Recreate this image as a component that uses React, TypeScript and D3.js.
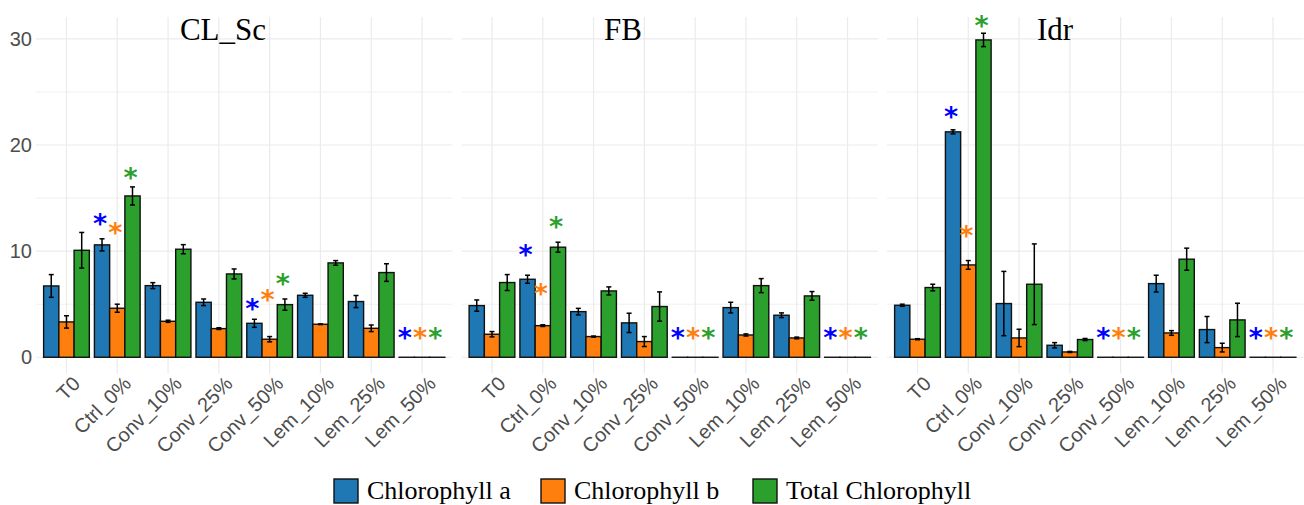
import React, { useRef, useEffect } from 'react';
import * as d3 from 'd3';

const sites = ['CL_Sc', 'FB', 'Idr'];
const categories = ['T0', 'Ctrl_0%', 'Conv_10%', 'Conv_25%', 'Conv_50%', 'Lem_10%', 'Lem_25%', 'Lem_50%'];
const seriesNames = ['Chlorophyll a', 'Chlorophyll b', 'Total Chlorophyll'];
const yTicks = [0, 10, 20, 30];
const yMinorTicks = [5, 15, 25];

// CL_Sc
const clScChlA = [6.72, 10.59, 6.75, 5.18, 3.2, 5.84, 5.25, 0];
const clScChlASd = [1.07, 0.57, 0.28, 0.31, 0.38, 0.19, 0.57, 0];
const clScChlB = [3.33, 4.62, 3.39, 2.7, 1.7, 3.11, 2.73, 0];
const clScChlBSd = [0.58, 0.38, 0.1, 0.08, 0.25, 0.03, 0.31, 0];
const clScTotal = [10.08, 15.2, 10.18, 7.85, 4.96, 8.89, 7.98, 0];
const clScTotalSd = [1.68, 0.85, 0.43, 0.47, 0.53, 0.22, 0.83, 0];

// FB
const fbChlA = [4.87, 7.35, 4.3, 3.24, 0, 4.68, 3.96, 0];
const fbChlASd = [0.53, 0.38, 0.31, 0.91, 0, 0.5, 0.22, 0];
const fbChlB = [2.17, 2.98, 1.95, 1.48, 0, 2.1, 1.82, 0];
const fbChlBSd = [0.25, 0.08, 0.05, 0.47, 0, 0.1, 0.08, 0];
const fbTotal = [7.04, 10.37, 6.25, 4.78, 0, 6.75, 5.78, 0];
const fbTotalSd = [0.75, 0.47, 0.38, 1.38, 0, 0.66, 0.41, 0];

// Idr
const idrChlA = [4.9, 21.24, 5.06, 1.13, 0, 6.94, 2.61, 0];
const idrChlASd = [0.1, 0.19, 3.03, 0.25, 0, 0.79, 1.23, 0];
const idrChlB = [1.7, 8.7, 1.82, 0.5, 0, 2.29, 0.91, 0];
const idrChlBSd = [0.05, 0.41, 0.82, 0.05, 0, 0.22, 0.41, 0];
const idrTotal = [6.57, 29.9, 6.88, 1.67, 0, 9.24, 3.52, 0];
const idrTotalSd = [0.31, 0.63, 3.8, 0.1, 0, 1.04, 1.57, 0];

// significance marks: [category, y of Chl a mark, y of Chl b mark, y of total mark]
const clScStars = [['Ctrl_0%', 13.3, 12.47, 17.6], ['Conv_50%', 5.3, 6.1, 7.6], ['Lem_50%', 2.58, 2.58, 2.58]];
const fbStars = [['Ctrl_0%', 10.37, 6.66, 13.0], ['Conv_50%', 2.58, 2.58, 2.58], ['Lem_50%', 2.58, 2.58, 2.58]];
const idrStars = [['Ctrl_0%', 23.4, 12.13, 31.95], ['Conv_50%', 2.58, 2.58, 2.58], ['Lem_50%', 2.58, 2.58, 2.58]];

const barColors = ['#1f77b4', '#ff7f0e', '#2ca02c'];
const starColors = ['#0000ff', '#ff7f0e', '#2ca02c'];

const App = () => {
  const chartRef = useRef<SVGSVGElement>(null);

  useEffect(() => {
    const svg = d3.select(chartRef.current);
    svg.selectAll('*').remove();

    const panelTop = 17;
    const panelBottom = 373.5;
    const panelLefts = [36, 461.5, 887];
    const panelWidth = 416.5;
    const titleX = [223, 623, 1055];
    const sansFont = "'Liberation Sans', Arial, sans-serif";
    const serifFont = "'Liberation Serif', 'Times New Roman', serif";

    const means = [
      [clScChlA, clScChlB, clScTotal],
      [fbChlA, fbChlB, fbTotal],
      [idrChlA, idrChlB, idrTotal],
    ];
    const sds = [
      [clScChlASd, clScChlBSd, clScTotalSd],
      [fbChlASd, fbChlBSd, fbTotalSd],
      [idrChlASd, idrChlBSd, idrTotalSd],
    ];
    const stars = [clScStars, fbStars, idrStars];

    const yScale = d3.scaleLinear().domain([-1.53, 32.06]).range([panelBottom, panelTop]);

    // y axis labels (shared)
    svg
      .append('g')
      .selectAll('text')
      .data(yTicks)
      .join('text')
      .attr('x', 32)
      .attr('y', (d) => yScale(d))
      .attr('dy', '0.36em')
      .attr('text-anchor', 'end')
      .style('font-family', sansFont)
      .style('font-size', '20px')
      .style('fill', '#4d4d4d')
      .text((d) => d);

    sites.forEach((site, si) => {
      const left = panelLefts[si];
      const xScale = d3
        .scalePoint()
        .domain(categories)
        .range([left, left + panelWidth])
        .padding(0.6);
      const step = xScale.step();
      const barW = step * 0.3;
      const g = svg.append('g');

      // grid
      g.selectAll('.minor')
        .data(yMinorTicks)
        .join('line')
        .attr('x1', left)
        .attr('x2', left + panelWidth)
        .attr('y1', (d) => yScale(d))
        .attr('y2', (d) => yScale(d))
        .style('stroke', '#f0f0f0')
        .style('stroke-width', 1);
      g.selectAll('.major')
        .data(yTicks)
        .join('line')
        .attr('x1', left)
        .attr('x2', left + panelWidth)
        .attr('y1', (d) => yScale(d))
        .attr('y2', (d) => yScale(d))
        .style('stroke', '#ebebeb')
        .style('stroke-width', 1.2);
      g.append('g')
        .selectAll('line')
        .data(categories)
        .join('line')
        .attr('x1', (d) => xScale(d))
        .attr('x2', (d) => xScale(d))
        .attr('y1', panelTop)
        .attr('y2', panelBottom)
        .style('stroke', '#ebebeb')
        .style('stroke-width', 1.2);

      // bars
      seriesNames.forEach((name, k) => {
        const vals = means[si][k];
        const errs = sds[si][k];
        const bx = (i) => xScale(categories[i]) + (k - 1.5) * barW;
        const sg = g.append('g');
        sg.selectAll('rect')
          .data(vals.map((v, i) => ({ v, i })).filter((d) => d.v > 0))
          .join('rect')
          .attr('x', (d) => bx(d.i))
          .attr('y', (d) => yScale(d.v))
          .attr('width', barW)
          .attr('height', (d) => yScale(0) - yScale(d.v))
          .style('fill', barColors[k])
          .style('stroke', '#111')
          .style('stroke-width', 1.4);
        sg.selectAll('.zero')
          .data(vals.map((v, i) => ({ v, i })).filter((d) => d.v === 0))
          .join('line')
          .attr('x1', (d) => bx(d.i) - 0.7)
          .attr('x2', (d) => bx(d.i) + barW + 0.7)
          .attr('y1', yScale(0))
          .attr('y2', yScale(0))
          .style('stroke', '#111')
          .style('stroke-width', 1.4);

        // error bars
        const eb = vals
          .map((v, i) => ({ v, e: errs[i], cx: bx(i) + barW / 2 }))
          .filter((d) => d.e > 0);
        const eg = g.append('g').style('stroke', '#000').style('stroke-width', 1.5);
        eg.selectAll('.stem')
          .data(eb)
          .join('line')
          .attr('x1', (d) => d.cx)
          .attr('x2', (d) => d.cx)
          .attr('y1', (d) => yScale(d.v - d.e))
          .attr('y2', (d) => yScale(d.v + d.e));
        eg.selectAll('.capTop')
          .data(eb)
          .join('line')
          .attr('x1', (d) => d.cx - 2.5)
          .attr('x2', (d) => d.cx + 2.5)
          .attr('y1', (d) => yScale(d.v + d.e))
          .attr('y2', (d) => yScale(d.v + d.e));
        eg.selectAll('.capBottom')
          .data(eb)
          .join('line')
          .attr('x1', (d) => d.cx - 2.5)
          .attr('x2', (d) => d.cx + 2.5)
          .attr('y1', (d) => yScale(d.v - d.e))
          .attr('y2', (d) => yScale(d.v - d.e));
      });

      // significance marks
      const marks = [];
      stars[si].forEach((row) => {
        [0, 1, 2].forEach((k) => {
          marks.push({ cat: row[0], k, y: row[k + 1] });
        });
      });
      g.append('g')
        .selectAll('text')
        .data(marks)
        .join('text')
        .attr('x', (d) => xScale(d.cat) + (d.k - 1) * barW - 2)
        .attr('y', (d) => yScale(d.y))
        .attr('dy', '0.62em')
        .attr('text-anchor', 'middle')
        .style('font-family', "'DejaVu Sans', sans-serif")
        .style('font-weight', 'bold')
        .style('font-size', '27px')
        .style('fill', (d) => starColors[d.k])
        .text('*');

      // x labels
      g.append('g')
        .selectAll('text')
        .data(categories)
        .join('text')
        .attr('transform', (d) => `translate(${xScale(d) + 15},${385}) rotate(-45)`)
        .attr('text-anchor', 'end')
        .style('font-family', sansFont)
        .style('font-size', '20px')
        .style('fill', '#4d4d4d')
        .text((d) => d);

      // panel title
      g.append('text')
        .attr('x', titleX[si])
        .attr('y', 40)
        .attr('text-anchor', 'middle')
        .style('font-family', serifFont)
        .style('font-size', '31px')
        .style('fill', '#000')
        .text(site);
    });

    // legend
    const legendX = [334, 541, 753];
    const lg = svg.append('g');
    seriesNames.forEach((name, k) => {
      lg.append('rect')
        .attr('x', legendX[k])
        .attr('y', 479)
        .attr('width', 24)
        .attr('height', 24)
        .style('fill', barColors[k])
        .style('stroke', '#111')
        .style('stroke-width', 1.4);
      lg.append('text')
        .attr('x', legendX[k] + 33)
        .attr('y', 499)
        .style('font-family', serifFont)
        .style('font-size', '26px')
        .style('fill', '#000')
        .text(name);
    });
  }, []);

  return (
    <svg
      ref={chartRef}
      width={1304}
      height={505}
      style={{ position: 'absolute', left: 0, top: 0, background: '#fff' }}
    ></svg>
  );
};

export default App;
